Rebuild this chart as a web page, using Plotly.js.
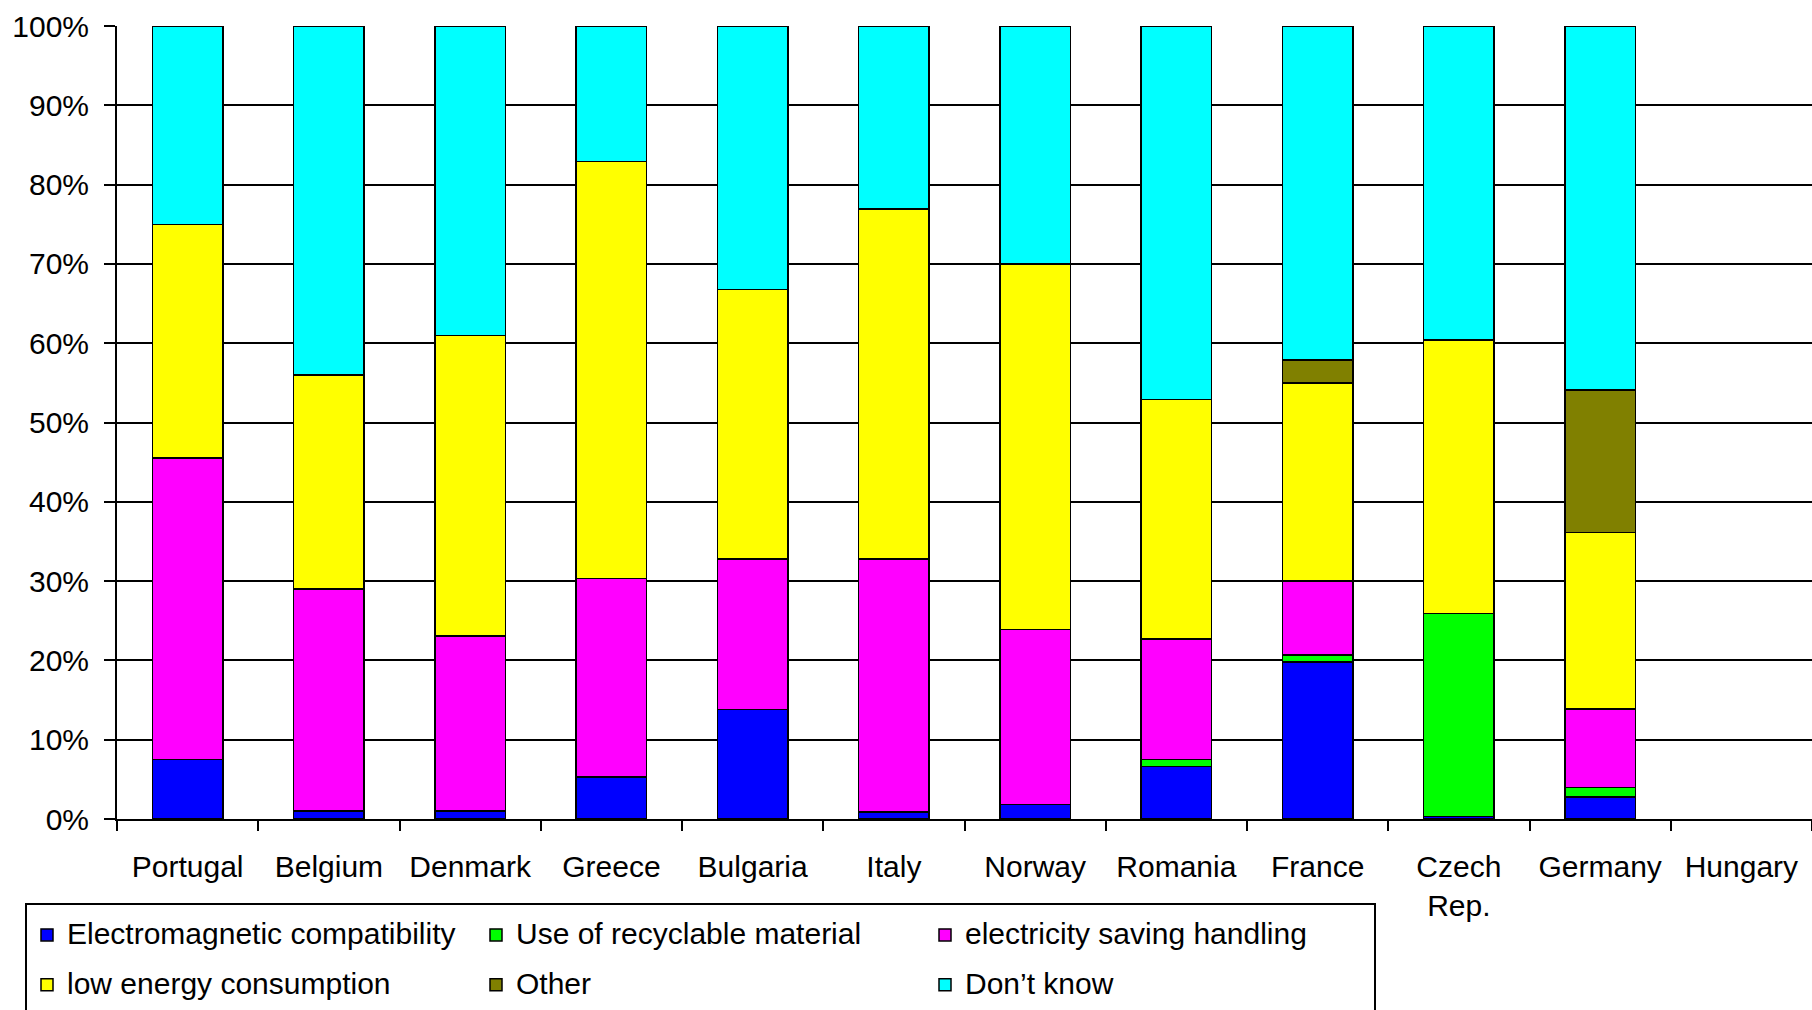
<!DOCTYPE html>
<html>
<head>
<meta charset="utf-8">
<script src="https://cdn.plot.ly/plotly-3.0.1.min.js"></script>
<style>html,body{margin:0;padding:0;background:#fff;}#chart{width:1812px;height:1010px;}</style>
</head>
<body>
<div id="chart"></div>
<script>
const countries = ["Portugal","Belgium","Denmark","Greece","Bulgaria","Italy","Norway","Romania","France","Czech<br>Rep.","Germany","Hungary"];
const emc        = [7.5, 1.0, 1.0, 5.3, 13.8, 0.9, 1.8, 6.6, 19.8, 0.3, 2.8, null];
const recyclable = [0, 0, 0, 0, 0, 0, 0, 0.9, 0.9, 25.6, 1.2, null];
const elecSaving = [38.0, 28.0, 22.1, 25.0, 19.0, 31.9, 22.1, 15.2, 9.3, 0, 9.9, null];
const lowEnergy  = [29.5, 27.0, 37.9, 52.6, 34.0, 44.1, 46.1, 30.2, 25.0, 34.5, 22.2, null];
const other      = [0, 0, 0, 0, 0, 0, 0, 0, 2.9, 0, 18.0, null];
const dontKnow   = [25.0, 44.0, 39.0, 17.1, 33.2, 23.1, 30.0, 47.1, 42.1, 39.6, 45.9, null];
const yTicks = [0,10,20,30,40,50,60,70,80,90,100];
const yTickLabels = ["0%","10%","20%","30%","40%","50%","60%","70%","80%","90%","100%"];

const seriesNames = ["Electromagnetic compatibility","Use of recyclable material","electricity saving handling","low energy consumption","Other","Don\u2019t know"];
const seriesValues = [emc, recyclable, elecSaving, lowEnergy, other, dontKnow];
const seriesColors = ["#0000FF","#00FF00","#FF00FF","#FFFF00","#808000","#00FFFF"];

const FONT = "Liberation Sans, Arial, sans-serif";
const traces = seriesNames.map((n, i) => ({
  type: "bar",
  name: '<span style="font-size:30px;baseline-shift:5px">' + n + '</span>',
  x: countries,
  y: seriesValues[i],
  marker: {color: seriesColors[i], line: {color: "#000", width: 1.5}},
  hoverinfo: "x+y"
}));

const layout = {
  width: 1812, height: 1010,
  paper_bgcolor: "#fff", plot_bgcolor: "#fff",
  barmode: "stack", bargap: 0.5,
  margin: {l: 25, r: 0, t: 26, b: 191, autoexpand: false},
  font: {family: FONT, color: "#000", size: 30},
  xaxis: {
    type: "category", categoryorder: "array", categoryarray: countries,
    range: [-0.5, 11.5], domain: [92/1787, 1],
    tickson: "boundaries", ticks: "outside", ticklen: 10, tickwidth: 2, tickcolor: "#000",
    showline: true, linecolor: "#000", linewidth: 2, showgrid: false,
    tickfont: {family: FONT, size: 30, color: "#000"}, ticklabelstandoff: 20
  },
  yaxis: {
    range: [0, 100], tickmode: "array", tickvals: yTicks, ticktext: yTickLabels,
    showgrid: true, gridcolor: "#000", gridwidth: 2, zeroline: false,
    showline: true, linecolor: "#000", linewidth: 2,
    ticks: "outside", ticklen: 11, tickwidth: 2, tickcolor: "#000",
    tickfont: {family: FONT, size: 30, color: "#000"}, ticklabelstandoff: 9
  },
  showlegend: true,
  legend: {
    orientation: "h", traceorder: "normal",
    x: 0, xanchor: "left", y: (819-903)/793, yanchor: "top",
    bordercolor: "#000", borderwidth: 2, bgcolor: "#fff",
    entrywidth: 404, entrywidthmode: "pixels",
    font: {family: FONT, size: 36, color: "#000"}
  }
};
Plotly.newPlot("chart", traces, layout, {displayModeBar: false, staticPlot: true});
</script>
</body>
</html>
